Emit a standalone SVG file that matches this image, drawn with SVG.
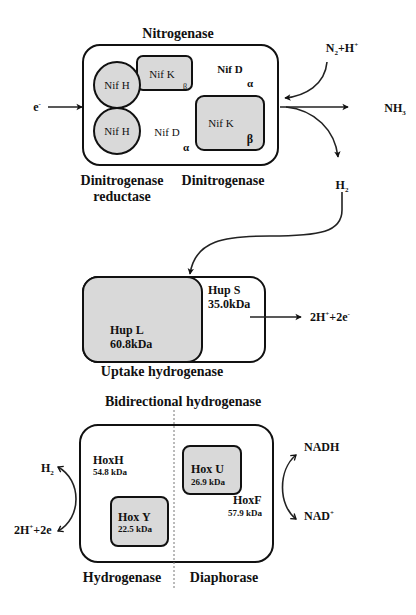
<svg xmlns="http://www.w3.org/2000/svg" width="416" height="615" viewBox="0 0 416 615">
<defs>
<marker id="ah" viewBox="0 0 10 10" refX="8" refY="5" markerWidth="8" markerHeight="8" orient="auto" markerUnits="userSpaceOnUse">
<path d="M1,1 L9,5 L1,9 L3,5 Z" fill="#111"/>
</marker>
<marker id="ao" viewBox="0 0 10 10" refX="8" refY="5" markerWidth="8" markerHeight="8" orient="auto-start-reverse" markerUnits="userSpaceOnUse">
<path d="M2,1 L8,5 L2,9" fill="none" stroke="#111" stroke-width="1.6"/>
</marker>
</defs>
<style>
text{font-family:"Liberation Serif","DejaVu Serif",serif;fill:#111}
.t{font-weight:bold;font-size:14px}
.n{font-size:11px}
.b{font-weight:bold;font-size:12px}
.s{font-weight:bold;font-size:9px}
.box{fill:#fff;stroke:#111;stroke-width:2}
.g{fill:#d9d9d9;stroke:#111;stroke-width:2}
.c{fill:none;stroke:#222;stroke-width:1.6}
</style>
<rect width="416" height="615" fill="#fff"/>

<g id="nitrogenase">
<text class="t" x="178" y="38" text-anchor="middle">Nitrogenase</text>
<rect class="box" x="83" y="45" width="195" height="120" rx="17"/>
<text class="n" x="230" y="73" text-anchor="middle" font-weight="bold">Nif D</text>
<text class="n" x="250" y="87" text-anchor="middle" font-weight="bold">α</text>
<text class="n" x="167" y="136" text-anchor="middle">Nif D</text>
<text class="n" x="186" y="151" text-anchor="middle" font-weight="bold">α</text>
<text class="t" x="122" y="185" text-anchor="middle">Dinitrogenase</text>
<text class="t" x="122" y="201" text-anchor="middle">reductase</text>
<text class="t" x="223" y="185" text-anchor="middle">Dinitrogenase</text>
</g>
<g id="nifk-small">
<rect class="g" x="137" y="56" width="55" height="34" rx="6"/>
<text class="n" x="162" y="78" text-anchor="middle">Nif K</text>
<text x="185" y="89" font-size="8" text-anchor="middle">β</text>
</g>
<g id="nifh-1">
<circle class="g" cx="117" cy="85" r="23"/>
<text class="n" x="117" y="89" text-anchor="middle">Nif H</text>
</g>
<g id="nifh-2">
<circle class="g" cx="117" cy="131" r="23"/>
<text class="n" x="117" y="135" text-anchor="middle">Nif H</text>
</g>
<g id="nifk-large">
<rect class="g" x="196" y="96" width="68" height="54" rx="8"/>
<text class="n" x="221" y="127" text-anchor="middle">Nif K</text>
<text x="250" y="143" font-size="12" font-weight="bold" text-anchor="middle">β</text>
</g>

<g id="e-label"><text class="b" x="37" y="111" text-anchor="middle">e<tspan font-size="7" dy="-5">-</tspan></text></g>
<g id="n2-label"><text class="b" x="342" y="52" text-anchor="middle">N<tspan font-size="7" dy="3">2</tspan><tspan dy="-3">+H</tspan><tspan font-size="7" dy="-5">+</tspan></text></g>
<g id="nh3-label"><text class="b" x="395" y="112" text-anchor="middle">NH<tspan font-size="7" dy="3">3</tspan></text></g>
<g id="h2-label"><text class="b" x="342" y="189" text-anchor="middle">H<tspan font-size="7" dy="3">2</tspan></text></g>

<g id="uptake">
<rect class="box" x="83" y="277" width="182" height="85" rx="15"/>
<rect class="g" x="83" y="277" width="119" height="85" rx="15"/>
<text class="b" x="208" y="294" font-size="13">Hup S</text>
<text class="b" x="208" y="308" font-size="13">35.0kDa</text>
<text class="b" x="110" y="334" font-size="13">Hup L</text>
<text class="b" x="110" y="348" font-size="13">60.8kDa</text>
<text class="t" x="162" y="376" text-anchor="middle" font-size="13.5">Uptake hydrogenase</text>
</g>
<g id="h-e-label"><text class="b" x="310" y="321">2H<tspan font-size="7" dy="-5">+</tspan><tspan dy="5">+2e</tspan><tspan font-size="7" dy="-5">-</tspan></text></g>

<g id="bidirectional">
<text class="t" x="183" y="406" text-anchor="middle">Bidirectional  hydrogenase</text>
<rect class="box" x="80" y="425" width="193" height="137" rx="18"/>
<text class="b" x="93" y="464" font-size="13.5">HoxH</text>
<text class="s" x="93" y="475">54.8 kDa</text>
<text class="b" x="233" y="504" font-size="13.5">HoxF</text>
<text class="s" x="228" y="516">57.9 kDa</text>
<text class="t" x="122" y="582" text-anchor="middle">Hydrogenase</text>
<text class="t" x="224" y="582" text-anchor="middle">Diaphorase</text>
</g>
<g id="hoxy">
<rect class="g" x="111" y="497" width="57" height="49" rx="7"/>
<text class="b" x="118" y="521" font-size="13.5">Hox Y</text>
<text class="s" x="118" y="532">22.5 kDa</text>
</g>
<g id="hoxu">
<rect class="g" x="183" y="446" width="58" height="48" rx="7"/>
<text class="b" x="191" y="473" font-size="13.5">Hox U</text>
<text class="s" x="191" y="485">26.9 kDa</text>
</g>
<g id="h2-left"><text class="b" x="41" y="472">H<tspan font-size="7" dy="3">2</tspan></text></g>
<g id="h-e-left"><text class="b" x="14" y="534">2H<tspan font-size="7" dy="-5">+</tspan><tspan dy="5">+2e</tspan></text></g>
<g id="nadh"><text class="b" x="304" y="451">NADH</text></g>
<g id="nad"><text class="b" x="304" y="520">NAD<tspan font-size="7" dy="-5">+</tspan></text></g>

<g id="connectors">
<path class="c" d="M48,107 L82,107" marker-end="url(#ah)"/>
<path class="c" d="M327,62 C325,85 305,96 285,98" marker-end="url(#ah)"/>
<path class="c" stroke-width="2" d="M280,107 L348,107" marker-end="url(#ah)"/>
<path class="c" d="M286,107 C315,110 335,130 338,157" marker-end="url(#ah)"/>
<path class="c" d="M342,192 L342,210 C342,232 320,236 270,236 C225,236 195,240 190,274" marker-end="url(#ah)"/>
<path class="c" stroke-width="2" d="M250,317 L301,317" marker-end="url(#ah)"/>
<line x1="174" y1="410" x2="174" y2="590" stroke="#777" stroke-width="1" stroke-dasharray="2,2"/>
<path class="c" d="M58,531 C82,518 82,480 58,467" marker-start="url(#ao)" marker-end="url(#ao)"/>
<path class="c" d="M296,455 C278,470 278,505 296,519" marker-start="url(#ao)" marker-end="url(#ao)"/>
</g>
</svg>
